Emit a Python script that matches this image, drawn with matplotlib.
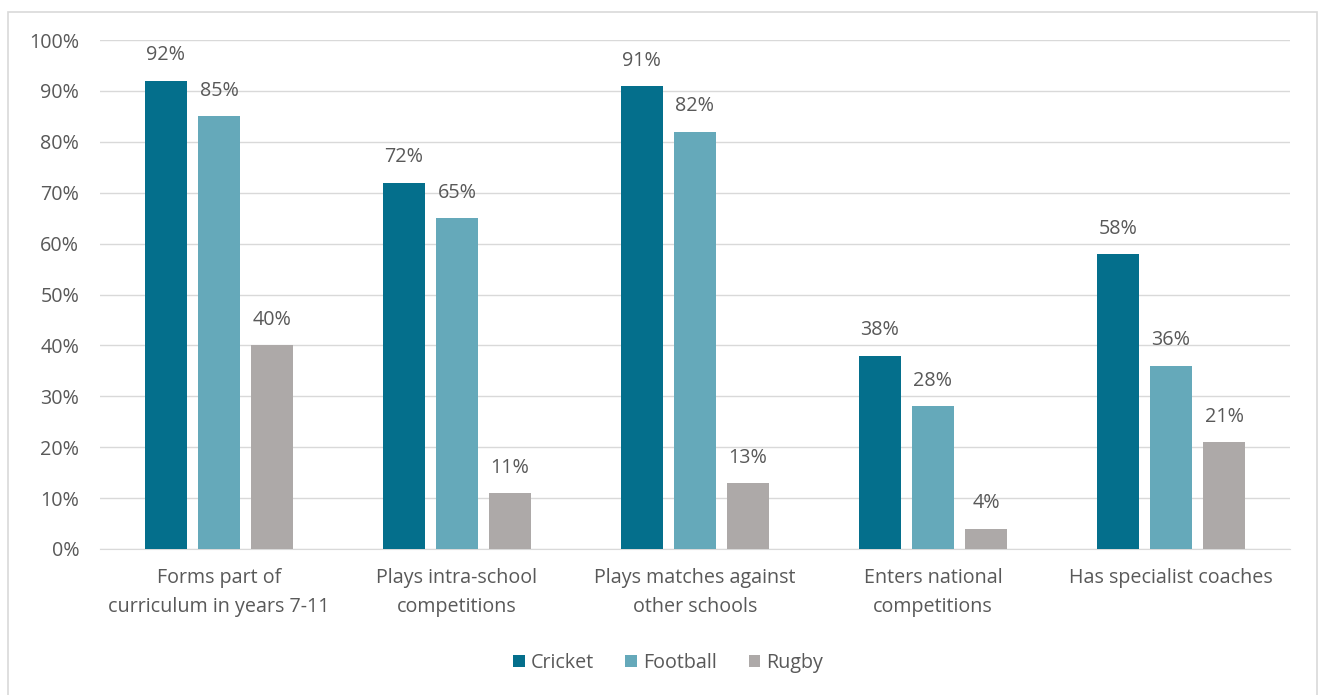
import matplotlib
matplotlib.use("Agg")
import matplotlib.pyplot as plt
import numpy as np
from matplotlib.patches import Rectangle

categories = ["Forms part of\ncurriculum in years 7-11", "Plays intra-school\ncompetitions",
              "Plays matches against\nother schools", "Enters national\ncompetitions",
              "Has specialist coaches"]
series_names = ["Cricket", "Football", "Rugby"]
cricket = [92, 72, 91, 38, 58]
football = [85, 65, 82, 28, 36]
rugby = [40, 11, 13, 4, 21]
colors = ["#046F8C", "#65A9BA", "#ADA9A8"]
yticks = [0, 10, 20, 30, 40, 50, 60, 70, 80, 90, 100]

plt.rcParams['font.family'] = ['Open Sans', 'DejaVu Sans']
text_color = "#595959"
fs = 14.2

fig = plt.figure(figsize=(13.19, 6.95), dpi=100)
fig.patches.append(Rectangle((8/1319, 1-705/695), (1317-8)/1319, (705-12)/695,
                             transform=fig.transFigure, fill=False,
                             edgecolor="#D9D9D9", linewidth=1.2))
ax = fig.add_axes([100/1319, 1-549/695, (1290-100)/1319, (549-40)/695])

x = np.arange(len(categories))
width = 0.176
offs = [-0.223, 0.0, 0.223]
for vals, name, c, o in zip([cricket, football, rugby], series_names, colors, offs):
    bars = ax.bar(x + o, vals, width, color=c, label=name, zorder=3)
    for b, v in zip(bars, vals):
        ax.annotate(f"{v}%", (b.get_x() + b.get_width()/2, v), xytext=(0, 11),
                    textcoords="offset points", ha="center", va="bottom",
                    fontsize=fs, color=text_color)

ax.set_xlim(-0.5, len(categories) - 0.5)
ax.set_ylim(0, 100)
ax.set_yticks(yticks)
ax.set_yticklabels([f"{t}%" for t in yticks])
ax.set_xticks(x)
ax.set_xticklabels(categories, linespacing=1.6)
ax.tick_params(axis='both', length=0, labelsize=fs, labelcolor=text_color)
ax.tick_params(axis='y', pad=15)
ax.tick_params(axis='x', pad=14)
ax.grid(axis='y', color="#D9D9D9", linewidth=1, zorder=0)
for s in ["top", "right", "left"]:
    ax.spines[s].set_visible(False)
ax.spines["bottom"].set_color("#D9D9D9")

handles, labels = ax.get_legend_handles_labels()
fig.legend(handles, labels, loc="center", bbox_to_anchor=(668/1319, 1-663/695),
           ncol=3, frameon=False, fontsize=fs, labelcolor=text_color,
           handlelength=0.6, handleheight=0.6, handletextpad=0.3, columnspacing=1.6)

fig.savefig("out.png", dpi=100)
